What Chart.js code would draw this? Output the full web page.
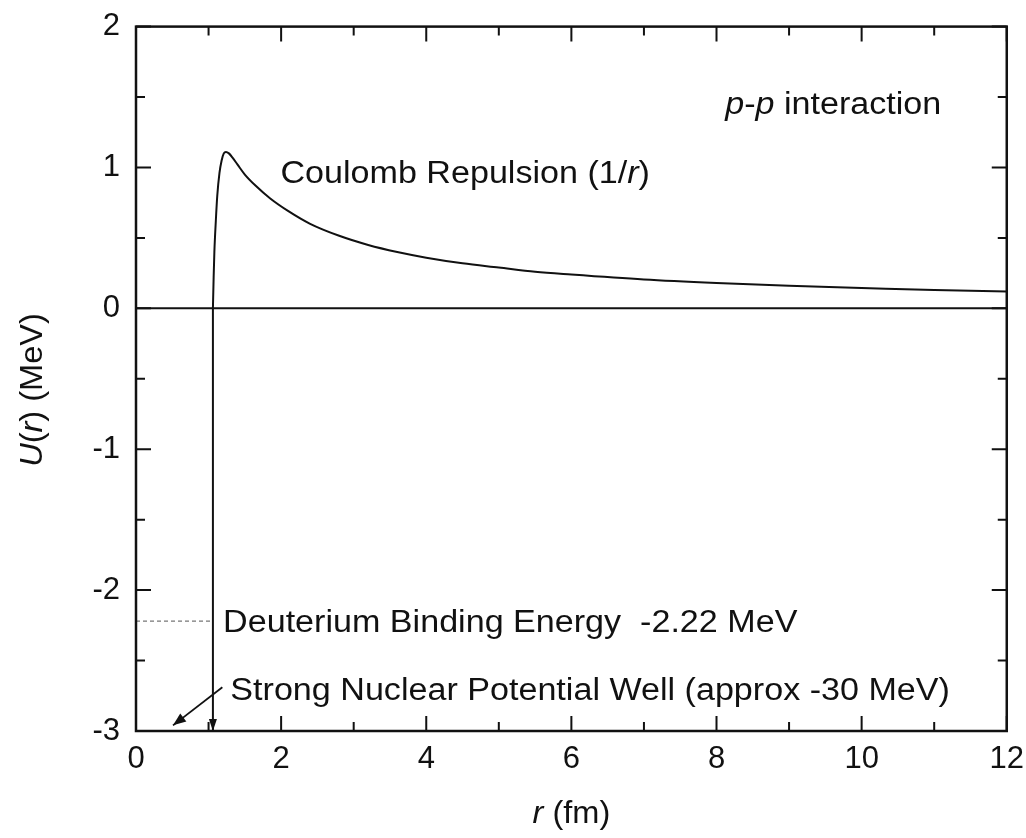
<!DOCTYPE html>
<html>
<head>
<meta charset="utf-8">
<script src="https://cdn.jsdelivr.net/npm/chart.js@4.4.1/dist/chart.umd.min.js"></script>
<style>
  html, body { margin: 0; padding: 0; background: #fff; }
  #wrap { width: 1026px; height: 838px; }
</style>
</head>
<body>
<div id="wrap"><canvas id="chart" width="1026" height="838"></canvas></div>
<script>
// data
const rCurve = [1.06, 1.07, 1.08, 1.10, 1.12, 1.15, 1.18, 1.21, 1.24, 1.28, 1.33, 1.40, 1.50, 1.65, 1.85, 2.1, 2.4, 2.8, 3.2, 3.6, 4.0, 4.5, 5.0, 5.5, 6.0, 7.0, 8.0, 9.0, 10.0, 11.0, 12.0];
const uCurve = [0, 0.22, 0.40, 0.62, 0.80, 0.96, 1.05, 1.10, 1.11, 1.10, 1.07, 1.02, 0.95, 0.87, 0.78, 0.69, 0.60, 0.515, 0.45, 0.40, 0.36, 0.32, 0.29, 0.26, 0.24, 0.205, 0.18, 0.16, 0.145, 0.13, 0.12];

// nuclear well wall (goes off the bottom, approx -30 MeV)
const rWall = [1.06, 1.06];
const uWall = [-30, 0];

// deuterium binding energy marker
const rBind = [0, 1.06];
const uBind = [-2.22, -2.22];

// zero line
const rZero = [0, 12];
const uZero = [0, 0];

// arrow from label to the well
const rArrow = [1.19, 0.51];
const uArrow = [-2.69, -2.96];

// ticks
const xMajor = [0, 2, 4, 6, 8, 10, 12];
const xMinor = [1, 3, 5, 7, 9, 11];
const yMajor = [-3, -2, -1, 0, 1, 2];
const yMinor = [-2.5, -1.5, -0.5, 0.5, 1.5];

const FONT = '"Liberation Sans", Arial, sans-serif';
const INK = "#111";

const pts = (xs, ys) => xs.map((x, i) => ({ x, y: ys[i] }));

// draw text made of runs [text, italic]
const drawRuns = (ctx, runs, x, y, stretch) => {
  ctx.save();
  ctx.translate(x, y);
  ctx.scale(stretch, 1);
  let cx = 0;
  runs.forEach(([t, it]) => {
    ctx.font = (it ? "italic " : "") + "31px " + FONT;
    ctx.fillText(t, cx, 0);
    cx += ctx.measureText(t).width;
  });
  ctx.restore();
  return cx * stretch;
};

const runsWidth = (ctx, runs) => {
  let w = 0;
  runs.forEach(([t, it]) => {
    ctx.font = (it ? "italic " : "") + "31px " + FONT;
    w += ctx.measureText(t).width;
  });
  return w;
};

const arrowHead = (ctx, x0, y0, x1, y1, len, half) => {
  const a = Math.atan2(y1 - y0, x1 - x0);
  ctx.beginPath();
  ctx.moveTo(x1, y1);
  ctx.lineTo(x1 - len * Math.cos(a) + half * Math.sin(a), y1 - len * Math.sin(a) - half * Math.cos(a));
  ctx.lineTo(x1 - len * Math.cos(a) - half * Math.sin(a), y1 - len * Math.sin(a) + half * Math.cos(a));
  ctx.closePath();
  ctx.fill();
};

// frame, inward ticks, notes, axis titles
const decorations = {
  id: "decorations",
  afterDatasetsDraw(chart) {
    const { ctx, chartArea: a, scales } = chart;
    const sx = scales.x, sy = scales.y;
    ctx.save();
    ctx.strokeStyle = INK;
    ctx.fillStyle = INK;

    // arrows
    const ax0 = sx.getPixelForValue(rArrow[0]), ay0 = sy.getPixelForValue(uArrow[0]);
    const ax1 = sx.getPixelForValue(rArrow[1]), ay1 = sy.getPixelForValue(uArrow[1]);
    arrowHead(ctx, ax0, ay0, ax1, ay1, 13, 5);
    const wx = sx.getPixelForValue(rWall[0]);
    arrowHead(ctx, wx, a.bottom - 20, wx, a.bottom, 12, 4);

    // ticks
    ctx.lineWidth = 2;
    ctx.beginPath();
    const tickX = (v, len) => {
      const p = sx.getPixelForValue(v);
      ctx.moveTo(p, a.bottom); ctx.lineTo(p, a.bottom - len);
      ctx.moveTo(p, a.top); ctx.lineTo(p, a.top + len);
    };
    const tickY = (v, len) => {
      const p = sy.getPixelForValue(v);
      ctx.moveTo(a.left, p); ctx.lineTo(a.left + len, p);
      ctx.moveTo(a.right, p); ctx.lineTo(a.right - len, p);
    };
    xMajor.forEach((v) => tickX(v, 15));
    xMinor.forEach((v) => tickX(v, 9));
    yMajor.forEach((v) => tickY(v, 15));
    yMinor.forEach((v) => tickY(v, 9));
    ctx.stroke();

    // frame
    ctx.lineWidth = 2.5;
    ctx.strokeRect(a.left, a.top, a.right - a.left, a.bottom - a.top);

    // notes
    ctx.textBaseline = "alphabetic";
    ctx.textAlign = "left";
    const at = (r, u) => [sx.getPixelForValue(r), sy.getPixelForValue(u)];
    let p;
    p = at(8.12, 1.38);
    drawRuns(ctx, [["p", true], ["-", false], ["p", true], [" interaction", false]], p[0], p[1], 1.1);
    p = at(1.99, 0.887);
    drawRuns(ctx, [["Coulomb Repulsion (1/", false], ["r", true], [")", false]], p[0], p[1], 1.1);
    p = at(1.20, -2.30);
    drawRuns(ctx, [["Deuterium Binding Energy  -2.22 MeV", false]], p[0], p[1], 1.1);
    p = at(1.30, -2.78);
    drawRuns(ctx, [["Strong Nuclear Potential Well (approx -30 MeV)", false]], p[0], p[1], 1.1);

    // axis titles
    const xRuns = [["r", true], [" (fm)", false]];
    const xw = runsWidth(ctx, xRuns) * 1.05;
    drawRuns(ctx, xRuns, (a.left + a.right) / 2 - xw / 2, 823, 1.05);

    const yRuns = [["U", true], ["(", false], ["r", true], [") (MeV)", false]];
    const yw = runsWidth(ctx, yRuns) * 1.05;
    ctx.save();
    ctx.translate(42, 390);
    ctx.rotate(-Math.PI / 2);
    drawRuns(ctx, yRuns, -yw / 2, 0, 1.05);
    ctx.restore();

    ctx.restore();
  },
};

const ctx = document.getElementById("chart").getContext("2d");
new Chart(ctx, {
  type: "line",
  data: {
    datasets: [
      {
        label: "zero",
        data: pts(rZero, uZero),
        borderColor: INK,
        borderWidth: 2,
        pointRadius: 0,
      },
      {
        label: "binding",
        data: pts(rBind, uBind),
        borderColor: "#777",
        borderWidth: 1.2,
        borderDash: [4, 3],
        pointRadius: 0,
      },
      {
        label: "wall",
        data: pts(rWall, uWall),
        borderColor: INK,
        borderWidth: 2,
        pointRadius: 0,
      },
      {
        label: "coulomb",
        data: pts(rCurve, uCurve),
        borderColor: INK,
        borderWidth: 2,
        pointRadius: 0,
        cubicInterpolationMode: "monotone",
      },
      {
        label: "arrow",
        data: pts(rArrow, uArrow),
        borderColor: INK,
        borderWidth: 1.8,
        pointRadius: 0,
      },
    ],
  },
  options: {
    responsive: false,
    animation: false,
    events: [],
    layout: { padding: { top: 20, right: 10, left: 0, bottom: 0 } },
    plugins: {
      legend: { display: false },
      tooltip: { enabled: false },
    },
    scales: {
      x: {
        type: "linear",
        min: 0,
        max: 12,
        grid: { display: false },
        border: { display: false },
        ticks: {
          stepSize: 2,
          color: INK,
          padding: 2,
          maxRotation: 0,
          font: { family: FONT, size: 31 },
        },
        afterFit: (s) => { s.height = 107; },
      },
      y: {
        type: "linear",
        min: -3,
        max: 2,
        grid: { display: false },
        border: { display: false },
        ticks: {
          stepSize: 1,
          color: INK,
          padding: 8,
          font: { family: FONT, size: 31 },
        },
        afterFit: (s) => { s.width = 136; },
      },
    },
  },
  plugins: [decorations],
});
</script>
</body>
</html>
